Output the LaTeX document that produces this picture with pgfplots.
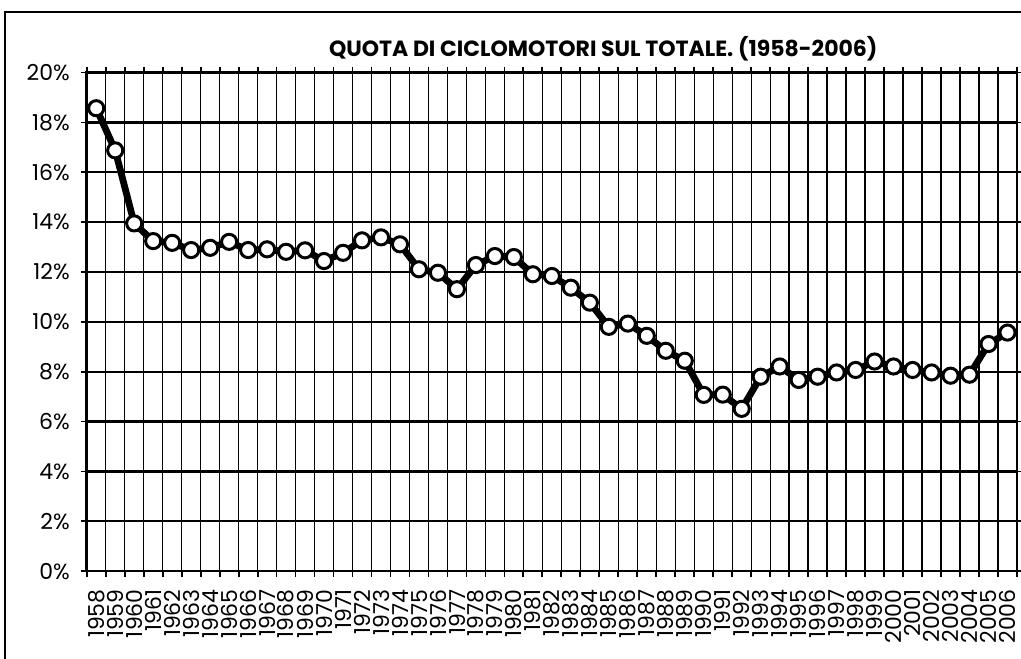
\documentclass[border=0pt]{standalone}
\usepackage{fontspec}
\setmainfont{Poppins}
\usepackage{graphicx}
\usepackage{pgfplots}
\pgfplotsset{compat=1.18}
\pgfplotstableread{
x y
0 18.57
1 16.88
2 13.95
3 13.24
4 13.17
5 12.88
6 12.97
7 13.21
8 12.88
9 12.91
10 12.81
11 12.87
12 12.44
13 12.77
14 13.27
15 13.39
16 13.11
17 12.11
18 11.97
19 11.31
20 12.28
21 12.64
22 12.60
23 11.91
24 11.84
25 11.37
26 10.77
27 9.80
28 9.93
29 9.44
30 8.84
31 8.44
32 7.07
33 7.08
34 6.51
35 7.80
36 8.21
37 7.67
38 7.80
39 7.97
40 8.07
41 8.41
42 8.21
43 8.07
44 7.97
45 7.84
46 7.88
47 9.11
48 9.57
}\quota
\begin{document}
\begin{tikzpicture}[x=1pt,y=1pt]
\useasboundingbox (-43.5,-44) rectangle (468.5,286.4);
\begin{axis}[
  at={(0,0)}, anchor=south west,
  scale only axis, width=466.5pt, height=250pt,
  xmin=-0.5, xmax=48.5, ymin=0, ymax=20,
  axis line style={line width=1.3pt},
  xtick={0,...,48},
  xticklabels={1958,1959,1960,1961,1962,1963,1964,1965,1966,1967,1968,1969,1970,1971,1972,1973,1974,1975,1976,1977,1978,1979,1980,1981,1982,1983,1984,1985,1986,1987,1988,1989,1990,1991,1992,1993,1994,1995,1996,1997,1998,1999,2000,2001,2002,2003,2004,2005,2006},
  minor xtick={-0.5,0.5,...,48.5},
  major x tick style={draw=none},
  xmajorgrids=false, xminorgrids=true,
  minor x grid style={line width=0.7pt, black},
  ytick={0,2,...,20},
  yticklabels={0\%,2\%,4\%,6\%,8\%,10\%,12\%,14\%,16\%,18\%,20\%},
  ymajorgrids=true,
  major y grid style={line width=1.2pt, black},
  tick align=outside,
  major tick length=3pt, minor tick length=3pt,
  tick style={black, line width=0.9pt},
  x tick label style={rotate=90, anchor=east, font=\fontsize{11}{12}\selectfont, inner sep=0pt},
  xticklabel shift=6pt,
  y tick label style={font=\fontsize{11}{12}\selectfont, xshift=-2pt},
  clip=false,
]
\addplot[line width=3.4pt, black, mark=*, mark size=3.8pt,
  mark options={fill=white, draw=black, line width=1.5pt}] table[x=x,y=y] {\quota};
\end{axis}
\node at (259,262) {\resizebox{275pt}{!}{\bfseries QUOTA DI CICLOMOTORI SUL TOTALE. (1958-2006)}};
\draw[line width=1.2pt] (-41,-44.5) -- (-41,280.5) -- (468.5,280.5);
\end{tikzpicture}
\end{document}
